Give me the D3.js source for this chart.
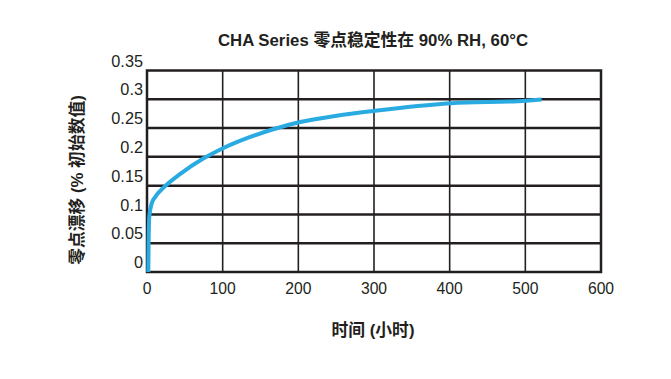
<!DOCTYPE html>
<html><head><meta charset="utf-8">
<script src="https://cdn.jsdelivr.net/npm/d3@7"></script>
<style>body{margin:0;background:#fff}svg{display:block}</style>
</head><body>
<script>
const hours  = [1.7, 2.0, 3.0, 6.2, 10.6, 21.5, 43.6, 74.4, 100.4, 166.9, 200.9, 250.7, 301.3, 401.7, 500.9, 521.6];
const drift  = [0.0, 0.038, 0.096, 0.119, 0.130, 0.146, 0.170, 0.197, 0.215, 0.248, 0.260, 0.2715, 0.280, 0.293, 0.2975, 0.2996];
const xTicks = [0, 100, 200, 300, 400, 500, 600];
const yTicks = [0, 0.05, 0.1, 0.15, 0.2, 0.25, 0.3, 0.35];
const yTickLabels = ["0", "0.05", "0.1", "0.15", "0.2", "0.25", "0.3", "0.35"];
const title = "CHA Series 零点稳定性在 90% RH, 60°C";
const xTitle = "时间 (小时)";
const yTitle = "零点漂移 (% 初始数值)";

const W = 671, H = 379;
const L = 147, R = 601, T = 70.5, B = 272;
const svg = d3.select("body").append("svg").attr("width", W).attr("height", H);
const font = "'Liberation Sans', Arial, 'Noto Sans CJK SC', sans-serif";
const ink = "#231f20";

const x = d3.scaleLinear().domain([0, 600]).range([L, R]);
const y = d3.scaleLinear().domain([0, 0.35]).range([B, T]);

// horizontal gridlines
svg.append("g").selectAll("line").data(yTicks.filter(v => v > 0 && v < 0.35)).join("line")
  .attr("x1", L).attr("x2", R).attr("y1", d => y(d)).attr("y2", d => y(d))
  .attr("stroke", ink).attr("stroke-width", 2.5);
// vertical gridlines
svg.append("g").selectAll("line").data(xTicks.filter(v => v > 0 && v < 600)).join("line")
  .attr("y1", T).attr("y2", B).attr("x1", d => x(d)).attr("x2", d => x(d))
  .attr("stroke", ink).attr("stroke-width", 1.6);
// frame
svg.append("rect").attr("x", L).attr("y", T).attr("width", R - L).attr("height", B - T)
  .attr("fill", "none").attr("stroke", ink).attr("stroke-width", 2.5);

// curve
const pts = hours.map((h, i) => [h, drift[i]]);
svg.append("path").datum(pts)
  .attr("d", d3.line().x(d => x(d[0])).y(d => y(d[1])).curve(d3.curveMonotoneX))
  .attr("fill", "none").attr("stroke", "#29abe2").attr("stroke-width", 4).attr("stroke-linecap", "butt");

// y tick labels (drawn slightly above gridlines as in the reference)
svg.append("g").selectAll("text").data(yTicks).join("text")
  .attr("x", 143).attr("y", d => y(d) - 9.5).attr("dy", "0.35em")
  .attr("text-anchor", "end").attr("font-family", font).attr("font-size", 16.3).attr("fill", ink)
  .text((d, i) => yTickLabels[i]);
// x tick labels
svg.append("g").selectAll("text").data(xTicks).join("text")
  .attr("x", d => x(d)).attr("y", 294)
  .attr("text-anchor", "middle").attr("font-family", font).attr("font-size", 15.7).attr("fill", ink)
  .text(d => d);

// titles
svg.append("text").attr("x", 373).attr("y", 45.5).attr("text-anchor", "middle")
  .attr("font-family", font).attr("font-size", 16.8).attr("font-weight", "bold").attr("fill", ink).text(title);
svg.append("text").attr("x", 373).attr("y", 336).attr("text-anchor", "middle")
  .attr("font-family", font).attr("font-size", 16.8).attr("font-weight", "bold").attr("fill", ink).text(xTitle);
svg.append("text").attr("transform", "translate(82.5,180) rotate(-90)").attr("text-anchor", "middle")
  .attr("font-family", font).attr("font-size", 16.8).attr("font-weight", "bold").attr("fill", ink).text(yTitle);
</script>
</body></html>
